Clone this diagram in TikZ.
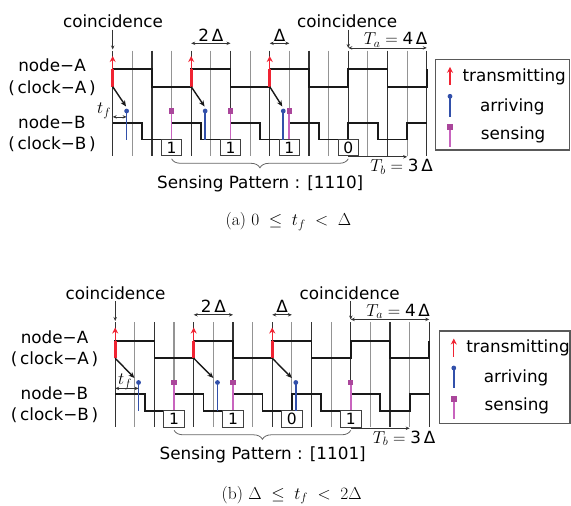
\documentclass[tikz,border=0pt]{standalone}
\usepackage{fontspec}
\setsansfont{DejaVu Sans}
\usetikzlibrary{arrows.meta,decorations.pathreplacing}

\definecolor{txred}{RGB}{240,35,50}
\definecolor{arrblue}{RGB}{50,80,170}
\definecolor{senseline}{RGB}{200,100,190}
\definecolor{sensemark}{RGB}{170,70,155}

\newcommand\labfont{\sffamily\fontsize{16.8}{19}\selectfont}
\newcommand\bitfont{\sffamily\fontsize{15.5}{17}\selectfont}
\newcommand\capfont{\rmfamily\fontsize{17.5}{19}\selectfont}
\newcommand\DD{19.63}

% levels of the two clock waveforms (panel-local y, downwards)
\newcommand\yAhi{69.3}
\newcommand\yAlo{86.7}
\newcommand\yBhi{122.7}
\newcommand\yBlo{139.5}
\newcommand\mky{111}

\tikzset{
  lab/.style={inner sep=0pt, font=\labfont},
  wave/.style={line width=1.8pt, black!90, line join=miter},
  gridmajor/.style={line width=1.2pt, black!80},
  gridminor/.style={line width=1.2pt, black!42},
  txline/.style={line width=2.6pt, txred},
  txarrow/.style={line width=1.3pt, txred, -{Stealth[length=6pt,width=6pt]}},
  delay/.style={line width=1.4pt, black!90, -{Stealth[length=6pt,width=5pt]}},
  arrline/.style={line width=1.7pt, arrblue},
  arrdot/.style={circle, fill=arrblue, inner sep=0pt, minimum size=4.8pt},
  senseln/.style={line width=1.8pt, senseline},
  sensemk/.style={rectangle, fill=sensemark, inner sep=0pt, minimum size=5.4pt},
  dim/.style={line width=0.8pt, black!80, {Stealth[length=4pt,width=3.4pt]}-{Stealth[length=4pt,width=3.4pt]}},
  pointer/.style={line width=0.8pt, black!80, -{Stealth[length=4pt,width=3.4pt]}},
  bitbox/.style={draw=black!75, line width=1pt, fill=white, inner sep=0pt,
    minimum width=20.5pt, minimum height=16.5pt, font=\bitfont},
  legendframe/.style={draw=black!65, line width=1.1pt},
  bracket/.style={decorate, decoration={brace, mirror, amplitude=9pt}, line width=0.8pt, black!60},
}

% One timing chart of node-A / node-B.
% #1 tx/arrival/arrow-tip triples (multiples of Delta)
% #2 sensing slot/bit pairs
% #3 position of the t_f label
% #4 first arrival (multiples of Delta)
% #5 sensing pattern
% #6 name prefix
\newcommand\timingpanel[6]{%
  % time grid, one line per Delta
  \foreach \i in {0,...,16}{%
    \ifodd\i
      \draw[gridminor] (\i*\DD,50.5) -- (\i*\DD,155.5);
    \else
      \draw[gridmajor] (\i*\DD,50.5) -- (\i*\DD,155.5);
    \fi
  }
  % clock A: period 4 Delta
  \draw[wave] (0,\yAlo) -- (0,\yAhi) -| (2*\DD,\yAlo) -| (4*\DD,\yAhi)
    -| (6*\DD,\yAlo) -| (8*\DD,\yAhi) -| (10*\DD,\yAlo) -| (12*\DD,\yAhi)
    -| (14*\DD,\yAlo) -| (16*\DD,\yAhi);
  % clock B: period 3 Delta
  \draw[wave] (0,\yBhi) -| (1.5*\DD,\yBlo) -| (3*\DD,\yBhi) -| (4.5*\DD,\yBlo)
    -| (6*\DD,\yBhi) -| (7.5*\DD,\yBlo) -| (9*\DD,\yBhi) -| (10.5*\DD,\yBlo)
    -| (12*\DD,\yBhi) -| (13.5*\DD,\yBlo) -| (15*\DD,\yBhi) -- (16*\DD,\yBhi);
  % sensing slots with their result bits
  \foreach \s/\b [count=\k] in {#2}{%
    \node[bitbox] (#6bit\k) at (\s*\DD,147.7) {\b};
    \ifnum\b=1
      \draw[senseln] (\s*\DD,\mky) -- (#6bit\k.north);
      \node[sensemk] (#6sm\k) at (\s*\DD,\mky) {};
    \fi
  }
  % transmissions of node-A and their arrivals at node-B
  \foreach \t/\a/\e [count=\k] in {#1}{%
    \draw[txline] (\t*\DD,\yAlo) -- (\t*\DD,\yAhi);
    \draw[txarrow] (\t*\DD,\yAhi) -- (\t*\DD,56);
    \coordinate (#6tx\k) at (\t*\DD,\yAlo);
    \coordinate (#6tip\k) at (\e*\DD,106.5);
    \draw[delay] (#6tx\k) -- (#6tip\k);
    \draw[arrline] (\a*\DD,\mky) -- (\a*\DD,\yBlo);
    \node[arrdot] (#6rx\k) at (\a*\DD,\mky) {};
  }
  % propagation delay
  \node[lab, font=\capfont] (#6tf) at (#3) {$t_f$};
  \coordinate (#6tfa) at (0,116.9);
  \coordinate (#6tfb) at (#4*\DD,116.9);
  \draw[dim] (#6tfa) -- (#6tfb);
  % row labels
  \node[lab, anchor=base] (#6na) at (-60.7,71.7) {node−A};
  \node[lab, anchor=base] (#6ca) at (-60.7,93.3) {(\,clock−A\,)};
  \node[lab, anchor=base] (#6nb) at (-60.7,128.3) {node−B};
  \node[lab, anchor=base] (#6cb) at (-60.7,149.3) {(\,clock−B\,)};
  % coincidences
  \node[lab, anchor=base] (#6co1) at (0.3,27.8) {coincidence};
  \coordinate (#6cp1) at (0,49.5);
  \draw[pointer] (0,29.5) -- (#6cp1);
  \node[lab, anchor=base] (#6co2) at (234.5,27.8) {coincidence};
  \coordinate (#6cp2) at (12*\DD,48);
  \draw[pointer] (12*\DD,29.5) -- (#6cp2);
  % interval marks
  \coordinate (#6d2a) at (4*\DD,43.3);
  \coordinate (#6d2b) at (6*\DD,43.3);
  \draw[dim] (#6d2a) -- (#6d2b);
  \node[lab, anchor=base] (#6d2) at (5*\DD,41.2) {2\,Δ};
  \coordinate (#6d1a) at (8*\DD,43.3);
  \coordinate (#6d1b) at (9*\DD,43.3);
  \draw[dim] (#6d1a) -- (#6d1b);
  \node[lab, anchor=base] (#6d1) at (8.5*\DD,41.2) {Δ};
  \coordinate (#6taa) at (12*\DD,47.9);
  \coordinate (#6tab) at (16*\DD,47.9);
  \draw[dim] (#6taa) -- (#6tab);
  \node[lab, anchor=base, font=\sffamily\fontsize{18}{20}\selectfont] (#6ta) at (283,44.8) {$T_a = \mbox{\labfont 4\,Δ}$};
  \coordinate (#6tba) at (12*\DD,156.8);
  \coordinate (#6tbb) at (15*\DD,156.8);
  \draw[pointer] (#6tba) -- (#6tbb);
  \node[lab, anchor=base, font=\sffamily\fontsize{18}{20}\selectfont] (#6tb) at (289,171.7) {$T_b = \mbox{\labfont 3\,Δ}$};
  % sensed pattern
  \coordinate (#6bra) at (3*\DD,158.8);
  \coordinate (#6brb) at (12*\DD,158.8);
  \draw[bracket] (#6bra) -- (#6brb);
  \node[lab, anchor=base] (#6pat) at (147.5,188.4) {Sensing Pattern : [#5]};
}

% legend; #1 top-left corner, #2 bottom-right corner, #3 name prefix
\newcommand\legendpanel[3]{%
  \begin{scope}[shift={#1}]
    \draw[legendframe] (0,0) rectangle #2;
    \draw[txarrow] (14.5,25.7) -- (14.5,7.5);
    \node[lab, anchor=base] (#3tx) at (78.7,21.8) {transmitting};
    \draw[arrline] (14.5,37) -- (14.5,57.4);
    \node[arrdot] (#3rx) at (14.5,37) {};
    \node[lab, anchor=base] (#3ar) at (76.8,51.8) {arriving};
    \draw[senseln] (14.5,67.8) -- (14.5,87.8);
    \node[sensemk] (#3sm) at (14.5,67.8) {};
    \node[lab, anchor=base] (#3se) at (77.6,79.8) {sensing};
  \end{scope}
}

\begin{document}
\begin{tikzpicture}[x=1pt, y=-1pt]
  \useasboundingbox (0,0) rectangle (571,506);

  % (a) short propagation delay
  \begin{scope}[shift={(112.7,0)}]
    \timingpanel{0/0.71/0.68, 4/4.71/4.68, 8/8.69/8.64}{3/1, 6/1, 9/1, 12/0}{-8.7,111}{0.71}{1110}{pa}
  \end{scope}
  \legendpanel{(435.5,59.3)}{(133.8,90.7)}{la}
  \node[inner sep=0pt, font=\capfont] (capa) at (288.5,221.7) {(a) $0 \;\le\; t_f \;<\; \Delta$};

  % (b) longer propagation delay
  \begin{scope}[shift={(115.2,271.5)}]
    \timingpanel{0/1.19/0.98, 4/5.21/5.0, 8/9.2/9.0}{3/1, 6/1, 9/0, 12/1}{9.8,110.2}{1.19}{1101}{pb}
  \end{scope}
  \legendpanel{(439.3,331)}{(130.7,92.3)}{lb}
  \node[inner sep=0pt, font=\capfont] (capb) at (291.7,495) {(b) $\Delta \;\le\; t_f \;<\; 2\Delta$};
\end{tikzpicture}
\end{document}
